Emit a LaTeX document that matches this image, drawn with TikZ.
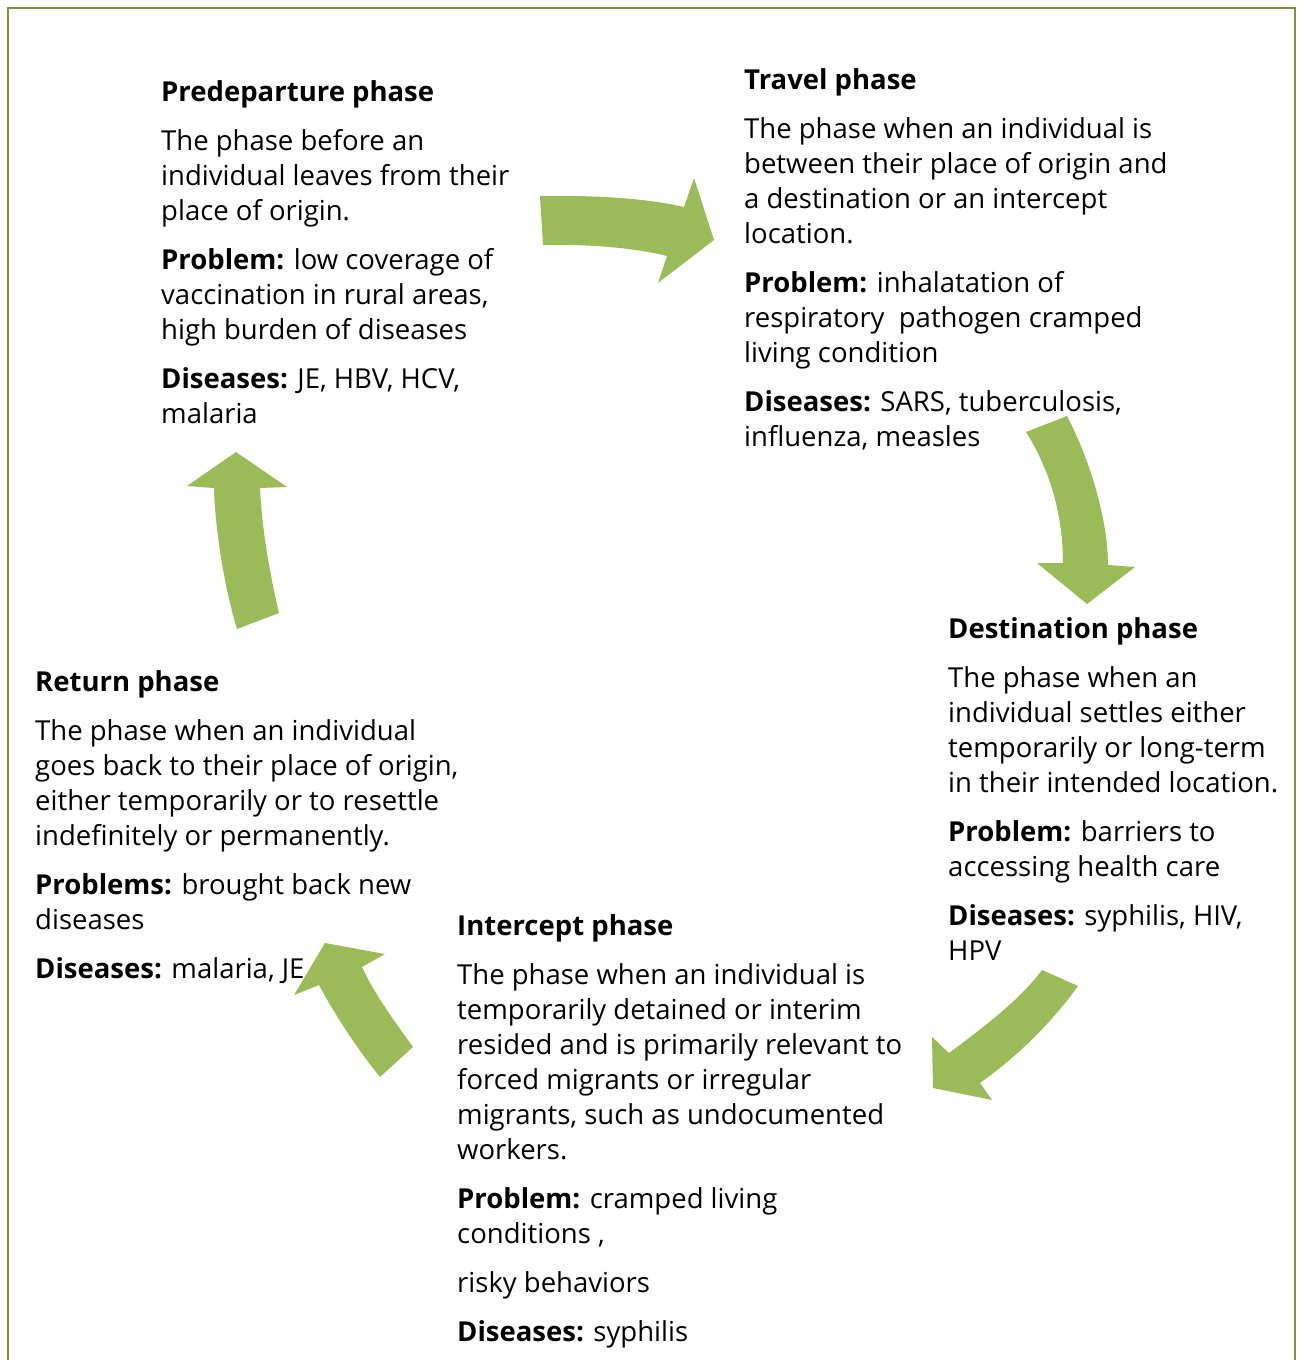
\documentclass[tikz,border=0pt]{standalone}
\usepackage{fontspec}
\setmainfont{Open Sans}
\definecolor{framegreen}{HTML}{77933C}
\definecolor{arrowgreen}{HTML}{9BBB59}
\tikzset{
  phase/.style={anchor=base west, inner sep=0pt, align=left,
    font=\fontsize{27.5}{35}\selectfont},
  blockarrow/.style={fill=arrowgreen, draw=none}
}
\newcommand{\gap}{\\[14pt]}
\begin{document}
\begin{tikzpicture}[x=1pt,y=-1pt]
\useasboundingbox (0,0) rectangle (1302,1360);
\draw[framegreen, line width=2.5pt] (8,1362) -- (8,8) -- (1295,8) -- (1295,1362);

% base anchor sits on the last line
\node[phase] (predeparture) at (161,423){\textbf{Predeparture phase}\gap
The phase before an\\ individual leaves from their\\ place of origin.\gap
\textbf{Problem:} low coverage of\\ vaccination in rural areas,\\ high burden of diseases\gap
\textbf{Diseases:} JE, HBV, HCV,\\ malaria};

\node[phase] (travel) at (744,446){\textbf{Travel phase}\gap
The phase when an individual is\\ between their place of origin and\\ a destination or an intercept\\ location.\gap
\textbf{Problem:} inhalatation of\\ respiratory\ \ pathogen cramped\\ living condition\gap
\textbf{Diseases:} SARS, tuberculosis,\\ influenza, measles};

\node[phase] (destination) at (948,960){\textbf{Destination phase}\gap
The phase when an\\ individual settles either\\ temporarily or long-term\\ in their intended location.\gap
\textbf{Problem:} barriers to\\ accessing health care\gap
\textbf{Diseases:} syphilis, HIV,\\ HPV};

\node[phase] (return) at (35,978){\textbf{Return phase}\gap
The phase when an individual\\ goes back to their place of origin,\\ either temporarily or to resettle\\ indefinitely or permanently.\gap
\textbf{Problems:} brought back new\\ diseases\gap
\textbf{Diseases:} malaria, JE};

\node[phase] (intercept) at (457,1341){\textbf{Intercept phase}\gap
The phase when an individual is\\ temporarily detained or interim\\ resided and is primarily relevant to\\ forced migrants or irregular\\ migrants, such as undocumented\\ workers.\gap
\textbf{Problem:} cramped living\\ conditions ,\gap
risky behaviors\gap
\textbf{Diseases:} syphilis};

\fill[blockarrow] (540,196) .. controls (600,195) and (650,199) .. (684,207)
  -- (694,178) -- (714,240) -- (658,283) -- (667,256)
  .. controls (635,248) and (590,244) .. (543,245) -- cycle;
\fill[blockarrow] (1026,432) -- (1067,416) .. controls (1090,460) and (1108,520) .. (1108,565)
  -- (1135,567) -- (1087,604) -- (1037,563) -- (1063,563)
  .. controls (1063,515) and (1050,470) .. (1026,432) -- cycle;
\fill[blockarrow] (1042,970) -- (1078,986) .. controls (1050,1025) and (1015,1058) .. (980,1083)
  -- (992,1100) -- (933,1088) -- (932,1037) -- (949,1053)
  .. controls (980,1030) and (1020,1000) .. (1042,970) -- cycle;
\fill[blockarrow] (380,1077) -- (413,1047) .. controls (395,1022) and (375,995) .. (362,967)
  -- (385,954) -- (325,943) -- (294,995) -- (319,985)
  .. controls (335,1015) and (358,1050) .. (380,1077) -- cycle;
\fill[blockarrow] (237,629) -- (279,613) .. controls (270,575) and (262,530) .. (260,488)
  -- (287,487) -- (236,452) -- (187,486) -- (214,488)
  .. controls (215,530) and (225,590) .. (237,629) -- cycle;
\end{tikzpicture}
\end{document}
